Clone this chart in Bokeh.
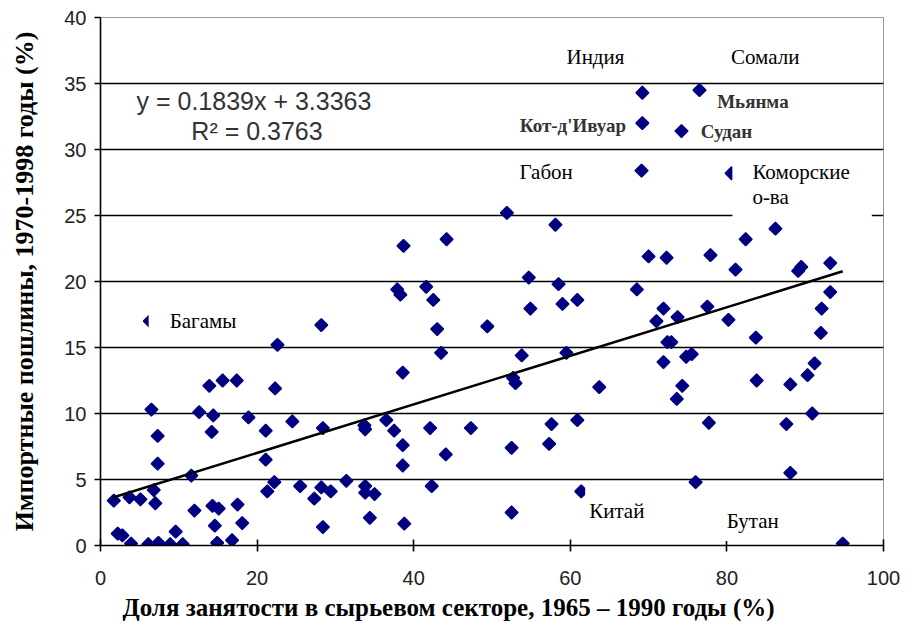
import math
from bokeh.plotting import figure
from bokeh.models import Range1d, Label, FixedTicker, ColumnDataSource, Title
from bokeh.embed import file_html
from bokeh.resources import INLINE

# Employment share in primary sector (%) and import tariffs (%)
emp = [
    1.7, 3.7, 5.1, 6.8, 7.0, 2.2, 2.8, 3.9, 6.1, 7.4, 8.9, 10.5, 9.6,
    6.5, 7.3, 7.3, 11.6, 12.0, 12.6, 13.9, 14.2, 14.3, 14.4, 14.6, 14.9, 15.1,
    15.6, 16.8, 17.4, 17.5, 18.1, 18.9, 21.1, 21.1, 21.3, 22.2, 22.3, 22.6,
    24.5, 25.5, 27.3, 28.2, 28.2, 28.4, 28.4, 29.4, 31.4, 33.7, 33.8, 33.8,
    33.8, 34.4, 35.0, 36.5, 37.5, 37.9, 38.3, 38.6, 38.6, 38.6, 38.7, 38.8,
    41.6, 42.1, 42.3, 42.5, 43.0, 43.5, 44.1, 44.2, 47.3, 49.4, 51.9, 52.5,
    52.5, 52.7, 53.0, 53.8, 54.7, 54.9, 57.3, 57.6, 58.1, 58.5, 59.0, 59.5,
    60.9, 60.9, 61.4, 63.7, 68.5, 69.1, 69.2, 69.2, 70.0, 71.0, 71.9, 71.9,
    72.3, 72.4, 72.9, 73.6, 73.7, 74.2, 74.3, 74.8, 75.5, 76.0, 76.5, 77.5,
    77.7, 77.9, 80.2, 80.6, 81.1, 82.4, 83.7, 83.8, 86.2, 87.6, 88.1, 88.1,
    89.1, 89.5, 90.3, 90.9, 91.2, 92.0, 92.1, 93.2, 93.2, 94.8, 6.3,
]
tariff = [
    3.4, 3.65, 3.5, 4.2, 3.2, 0.9, 0.76, 0.15, 0.1, 0.2, 0.1, 0.1, 1.05,
    10.3, 8.3, 6.2, 5.3, 2.65, 10.1, 12.1, 8.6, 3.0, 9.85, 1.5, 0.2, 2.8,
    12.5, 0.4, 12.5, 3.1, 1.7, 9.7, 8.7, 6.5, 4.1, 4.8, 11.9, 15.2,
    9.4, 4.5, 3.55, 4.4, 16.7, 8.9, 1.4, 4.1, 4.9, 9.1, 8.8, 4.5,
    4.0, 2.1, 3.9, 9.5, 8.7, 19.4, 19.0, 7.6, 6.06, 13.1, 22.7, 1.65,
    19.6, 8.9, 4.5, 18.6, 16.4, 14.6, 6.9, 23.2, 8.9, 16.6, 25.2, 7.4,
    2.5, 12.7, 12.3, 14.4, 20.3, 17.95, 7.7, 9.2, 24.3, 19.8, 18.3, 14.6,
    18.6, 9.5, 4.1, 12.0, 19.4, 28.4, 34.3, 32.0, 21.9, 17.0, 17.95, 13.9,
    21.8, 15.4, 15.4, 11.1, 17.3, 31.4, 12.1, 14.3, 14.5, 4.8, 34.5, 18.1,
    9.3, 22.0, 17.1, 28.2, 20.9, 23.2, 15.75, 12.5, 24.0, 9.2, 12.2, 5.5,
    20.8, 21.1, 12.9, 10.0, 13.8, 16.1, 17.95, 21.4, 19.2, 0.15, 17.0,
]

slope = 0.1839
intercept = 3.3363
r2 = 0.3763

x_ticks = [0, 20, 40, 60, 80, 100]
y_ticks = [0, 5, 10, 15, 20, 25, 30, 35, 40]

x_title = "Доля занятости в сырьевом секторе, 1965 – 1990 годы (%)"
y_title = "Импортные пошлины, 1970-1998 годы (%)"

# country labels: (text, x, y, bold, padding (left, right, top, bottom))
labels = [
    ("Индия", 59.0, 37.0, False, (4, 4, 4, 4)),
    ("Сомали", 80.0, 37.0, False, (4, 4, 4, 4)),
    ("Мьянма", 78.5, 33.6, True, (2, 2, 2, 2)),
    ("Кот-д'Ивуар", 53.3, 31.8, True, (2, 2, 2, 2)),
    ("Судан", 76.4, 31.4, True, (2, 2, 2, 2)),
    ("Габон", 53.0, 28.3, False, (4, 4, 4, 4)),
    ("Коморские\nо-ва", 80.7, 27.15, False, (20, 22, 4, 9)),
    ("Багамы", 6.15, 17.0, False, (21, 4, 4, 4)),
    ("Китай", 61.9, 2.95, False, (4, 4, 12, 4)),
    ("Бутан", 77.8, 1.7, False, (17, 6, 4, 8)),
]

p = figure(width=905, height=627, output_backend="svg", toolbar_location=None,
           x_range=Range1d(0, 100), y_range=Range1d(0, 40),
           min_border_left=100, min_border_right=22, min_border_top=17, min_border_bottom=82)
p.background_fill_color = "white"
p.border_fill_color = "white"
p.outline_line_color = "#999999"
p.outline_line_width = 1

p.xgrid.grid_line_color = None
p.ygrid.grid_line_color = "black"
p.ygrid.grid_line_width = 1.6
p.ygrid.ticker = FixedTicker(ticks=y_ticks)

p.xaxis.ticker = FixedTicker(ticks=x_ticks)
p.yaxis.ticker = FixedTicker(ticks=y_ticks)
for ax in (p.xaxis[0], p.yaxis[0]):
    ax.axis_line_color = "black"
    ax.axis_line_width = 1.6
    ax.major_tick_line_color = "black"
    ax.major_tick_line_width = 1.6
    ax.minor_tick_line_color = None
    ax.major_label_text_font = "Liberation Sans"
    ax.major_label_text_font_size = "20px"
    ax.major_label_text_color = "#222222"
    ax.axis_label_text_font = "Liberation Serif"
    ax.axis_label_text_font_style = "bold"
    ax.axis_label_text_color = "black"

p.xaxis.major_tick_in = 6
p.xaxis.major_tick_out = 6
p.yaxis.major_tick_in = 0
p.yaxis.major_tick_out = 6
p.xaxis.major_label_standoff = 19
p.yaxis.major_label_standoff = 8
p.yaxis.axis_label = y_title
p.yaxis.axis_label_text_font_size = "26px"
p.yaxis.axis_label_standoff = 22

src = ColumnDataSource(dict(x=emp, y=tariff))
p.scatter("x", "y", source=src, marker="square", size=9, angle=math.pi / 4,
          fill_color="#000080", line_color="#000080", line_width=1.5)

x0, x1 = min(emp), max(emp)
p.line([x0, x1], [slope * x0 + intercept, slope * x1 + intercept],
       line_color="black", line_width=2.6)

p.add_layout(Label(x=4.6, y=33.7, text=f"y = {slope}x + {intercept}",
                   text_font="Liberation Sans", text_font_size="25px",
                   text_color="#333333", text_baseline="middle"))
p.add_layout(Label(x=11.6, y=31.4, text=f"R² = {r2}",
                   text_font="Liberation Sans", text_font_size="25px",
                   text_color="#333333", text_baseline="middle"))

for t, lx, ly, bold, pad in labels:
    p.add_layout(Label(x=lx, y=ly, text=t,
                       text_font="Liberation Serif",
                       text_font_size="19px" if bold else "21px",
                       text_font_style="bold" if bold else "normal",
                       text_color="#333333" if bold else "black",
                       text_line_height=1.05,
                       text_baseline="middle", text_align="left",
                       background_fill_color="white", padding=pad))

# x-axis title, placed as in the original (left of the frame centre)
p.add_layout(Title(text=x_title, align="left", offset=22,
                   text_font="Liberation Serif", text_font_size="25px",
                   text_font_style="bold", text_color="black", standoff=9), "below")

open("out.html", "w").write(file_html(p, INLINE))
